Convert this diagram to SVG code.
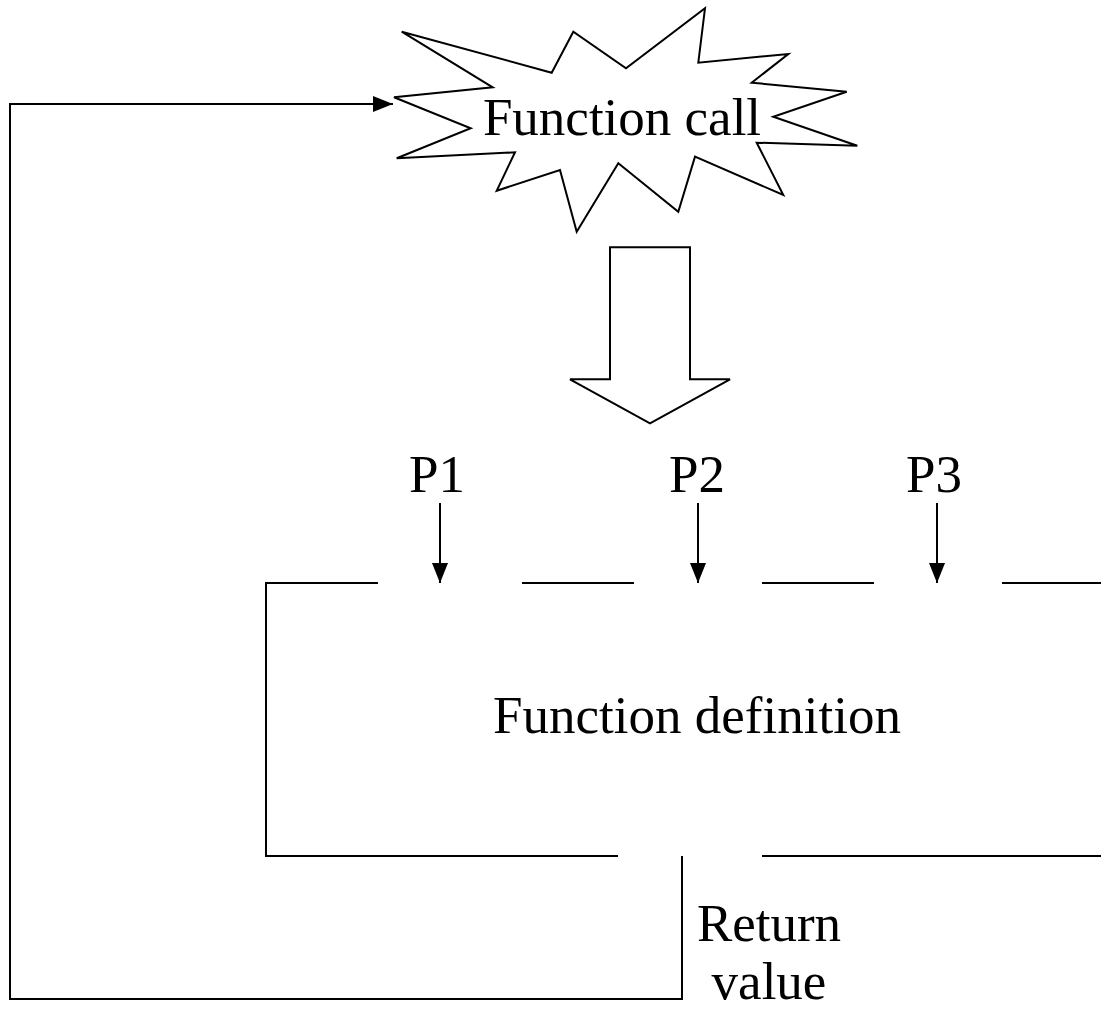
<svg xmlns="http://www.w3.org/2000/svg" width="1101" height="1009" viewBox="0 0 1101 1009">
<style>
.t{font-family:"Liberation Serif","Times New Roman",serif;font-size:53px;fill:#000;text-anchor:middle}
.s{fill:none;stroke:#000;stroke-width:2}
.f{fill:#fff;stroke:#000;stroke-width:2;stroke-linejoin:miter}
</style>
<defs>
<marker id="ah" viewBox="0 0 20 16" refX="20" refY="8" markerWidth="20" markerHeight="16" markerUnits="userSpaceOnUse" orient="auto">
<path d="M0,0 L20,8 L0,16 Z" fill="#000"/>
</marker>
</defs>
<rect width="1101" height="1009" fill="#fff"/>
<g id="function-call">
<polygon class="f" points="401.7,31.7 551.7,72.7 573.3,31.7 626,68.3 705,8.3 698.3,62.7 788.3,54 751.7,82.7 846.7,91.7 773.3,116.7 857.3,145.7 756.7,142.7 783.3,195 695,156.7 678.3,211.7 618.3,163.3 576.7,231.7 560,170 496.7,190.7 515,152.3 396.7,158.3 470.7,128.3 394,97.3 492.7,87.3"/>
<text class="t" x="622" y="135">Function call</text>
</g>
<g id="block-arrow">
<polygon class="f" points="610,247.3 690,247.3 690,379.3 730,379.3 650,423.3 570,379.3 610,379.3"/>
</g>
<g id="function-definition">
<path class="s" d="M378,583 H266 V856 H618 M762,856 H1101 M522,583 H634 M762,583 H874 M1002,583 H1101"/>
<text class="t" x="697" y="733">Function definition</text>
</g>
<g id="p1"><text class="t" x="437" y="492">P1</text></g>
<g id="p2"><text class="t" x="697" y="492">P2</text></g>
<g id="p3"><text class="t" x="934" y="492">P3</text></g>
<g id="return-value">
<text class="t" x="769" y="941">Return</text>
<text class="t" x="769" y="999">value</text>
</g>
<g id="connectors">
<line class="s" x1="440" y1="503" x2="440" y2="583" marker-end="url(#ah)"/>
<line class="s" x1="698" y1="503" x2="698" y2="583" marker-end="url(#ah)"/>
<line class="s" x1="937" y1="503" x2="937" y2="583" marker-end="url(#ah)"/>
<path class="s" d="M682,856 V999 H10 V104 H393" marker-end="url(#ah)"/>
</g>
</svg>
